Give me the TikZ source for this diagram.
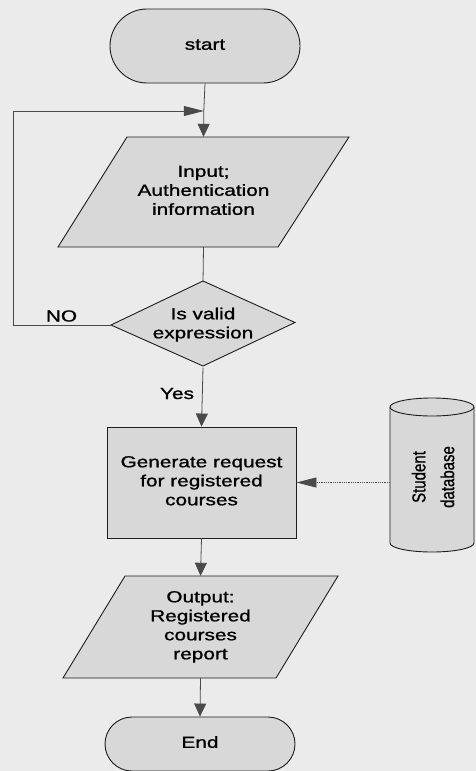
\documentclass[tikz,border=0pt]{standalone}
\usepackage{fontspec}
\setmainfont{Liberation Sans}
\newfontface\flowfont{Liberation Sans}[FakeBold=0.9]
\usepackage{graphicx}
\usetikzlibrary{arrows.meta,calc}

\definecolor{paper}{HTML}{EBEBEB}
\definecolor{boxfill}{HTML}{D8D8D8}
\definecolor{ink}{HTML}{1E1E1E}
\definecolor{wire}{HTML}{4A4A4A}
\definecolor{tipfill}{HTML}{4A4A4A}

% wide Arial-like lettering used in the flowchart
\newcommand{\flowtext}[1]{\scalebox{1.3}[1]{\flowfont\fontsize{16}{19}\selectfont\begin{tabular}{@{}c@{}}#1\end{tabular}}}
\newcommand{\flowlabel}[1]{\scalebox{1.3}[1]{\flowfont\fontsize{16}{19}\selectfont #1}}

\tikzset{
  shapeline/.style={draw=ink, line width=0.9pt, fill=boxfill},
  hold/.style={rectangle, inner sep=0pt},
  terminal/.style={shapeline, rectangle, inner sep=0pt},
  process/.style={shapeline, rectangle, inner sep=0pt},
  wireline/.style={draw=wire, line width=0.8pt},
  tipdown/.style={-{Triangle[length=13pt,width=12pt,fill=tipfill]}},
  tipside/.style={-{Triangle[length=20pt,width=10pt,fill=tipfill]}},
  lbl/.style={inner sep=0pt, anchor=base}
}

\begin{document}
\begin{tikzpicture}[x=1pt,y=-1pt]
  \useasboundingbox (0,0) rectangle (476,771);
  \fill[paper] (0,0) rectangle (476,771);

  % start terminal
  \node[terminal, rounded corners=37pt, minimum width=190, minimum height=74] (start) at (205,46) {\flowtext{start}};

  % input parallelogram
  \path[shapeline] (127,137) -- (349,137) -- (278,247) -- (58,247) -- cycle;
  \node[hold, minimum width=291, minimum height=110] (inp) at (203.5,192) {\flowtext{Input;\\Authentication\\information}};

  % decision diamond
  \path[shapeline] (203,281) -- (295,322.5) -- (203,366) -- (111,325) -- cycle;
  \node[hold, minimum width=184, minimum height=85] (dec) at (203,325) {\flowtext{Is valid\\expression}};

  % process box
  \node[process, minimum width=189, minimum height=111] (req) at (201.5,482.5) {\flowtext{Generate request\\for registered\\courses}};

  % output parallelogram
  \path[shapeline] (125,576) -- (338,576) -- (276,678) -- (63,678) -- cycle;
  \node[hold, minimum width=275, minimum height=102] (out) at (200.5,627) {\flowtext{Output:\\Registered\\courses\\report}};

  % end terminal
  \node[terminal, rounded corners=27pt, minimum width=190, minimum height=54] (end) at (200,744) {\flowtext{End}};

  % database cylinder
  \path[shapeline] (390,407) -- (390,543)
    arc[start angle=180, end angle=0, x radius=42, y radius=9]
    -- (474,407)
    arc[start angle=0, end angle=-180, x radius=42, y radius=9] -- cycle;
  \draw[draw=ink, line width=0.9pt] (390,407) arc[start angle=180, end angle=0, x radius=42, y radius=9];
  \node[hold, minimum width=88, minimum height=136] (db) at (434,477)
    {\rotatebox{90}{\scalebox{1}[1.25]{\flowfont\fontsize{15}{23}\selectfont\begin{tabular}{@{}c@{}}Student\\database\end{tabular}}}};

  % connectors
  \coordinate (join) at (203.8,111);
  \coordinate (loopcorner) at (13.3,325);
  \draw[wireline] (start.south) -- (join);
  \draw[wireline, tipdown] (join) -- (inp.north);
  \draw[wireline] (inp.south) -- (dec.north);
  \draw[wireline, tipside] (dec.west) -- (loopcorner) |- (join);
  \draw[wireline, tipdown] (dec.south) -- (req.north);
  \draw[wireline, densely dotted, tipside] (db.west |- req.east) -- (req.east);
  \draw[wireline, tipdown] (req.south) -- (out.north);
  \draw[wireline, tipdown] (out.south) -- (end.north);

  % branch labels
  \node[lbl] (nolbl) at (61.5,321.5) {\flowlabel{NO}};
  \node[lbl] (yeslbl) at (177,399) {\flowlabel{Yes}};
\end{tikzpicture}
\end{document}
